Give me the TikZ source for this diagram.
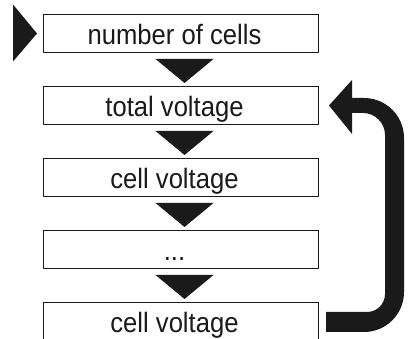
\documentclass[tikz,border=0pt]{standalone}
\usepackage{fontspec}
\newfontfamily\boxfont[FakeStretch=0.915]{Liberation Sans}
\usetikzlibrary{calc}
\definecolor{ink}{HTML}{1A1A1A}
\tikzset{
  box/.style={draw=ink, line width=1pt, minimum width=275pt, minimum height=38pt, inner sep=0pt, anchor=north west},
  lbl/.style={font=\boxfont\fontsize{28}{30}\selectfont, text=ink, anchor=base, inner sep=0pt},
  tri/.style={fill=ink, draw=none},
}
\begin{document}
\begin{tikzpicture}[x=1pt,y=1pt]
\clip (0,0) rectangle (409,339);
\fill[white] (0,0) rectangle (409,339);
% boxes
\node[box] (b1) at (43,325) {};
\node[box] (b2) at (43,253) {};
\node[box] (b3) at (43,181) {};
\node[box] (b4) at (43,109) {};
\node[box, minimum height=44pt] (b5) at (43,37) {};
% labels
\node[lbl] (t1) at ($(b1.north)+(-6.5,-30.5)$) {number of cells};
\node[lbl] (t2) at ($(b2.north)+(-6.5,-30.5)$) {total voltage};
\node[lbl] (t3) at ($(b3.north)+(-6.5,-30.5)$) {cell voltage};
\node[lbl] (t4) at ($(b4.north)+(-6.5,-30.5)$) {...};
\node[lbl] (t5) at ($(b5.north)+(-6.5,-30.5)$) {cell voltage};
% down triangles
\foreach \a/\b in {b1/b2,b2/b3,b3/b4,b4/b5}{
  \fill[tri] ($(\a.south)+(-25.5,-6)$) -- ($(\a.south)+(32.5,-6)$) -- ($(\a.south)+(3.5,-30)$) -- cycle;
}
% left entry triangle
\coordinate (e) at ($(b1.west)+(-6,0)$);
\fill[tri] ($(e)+(-24,29)$) -- ($(e)+(-24,-28)$) -- (e) -- cycle;
% feedback arrow
\coordinate (a0) at ($(b5.east)+(7,0)$);
\coordinate (h0) at ($(b2.east)+(10,0)$);
\fill[ink] (352,241) -- (364,241) arc[start angle=90, end angle=0, radius=40pt]
  -- (404,47) arc[start angle=0, end angle=-90, radius=40pt]
  -- (a0 |- 0,7) -- (a0 |- 0,27)
  -- (367,27) arc[start angle=-90, end angle=0, radius=18pt]
  -- (385,204) arc[start angle=0, end angle=90, radius=22pt]
  -- (352,226) -- cycle;
\fill[ink] (h0) -- (352,259) -- (352,205) -- cycle;
\end{tikzpicture}
\end{document}
